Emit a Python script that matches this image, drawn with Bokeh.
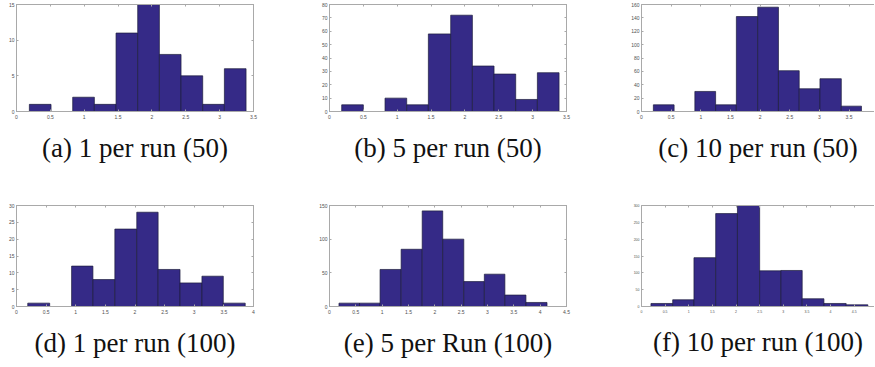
from bokeh.plotting import figure
from bokeh.layouts import column, row
from bokeh.models import Range1d, LinearAxis, Title, CustomJSTickFormatter
from bokeh.embed import file_html
from bokeh.resources import INLINE

# ---------------- data ----------------
a_edges = [0.19, 0.51, 0.83, 1.15, 1.47, 1.79, 2.11, 2.43, 2.75, 3.07, 3.39]
a_counts = [1, 0, 2, 1, 11, 15, 8, 5, 1, 6]
b_edges = [0.18, 0.50, 0.82, 1.14, 1.46, 1.79, 2.11, 2.43, 2.75, 3.07, 3.39]
b_counts = [5, 0, 10, 5, 58, 72, 34, 28, 9, 29]
c_edges = [0.20, 0.55, 0.90, 1.25, 1.60, 1.96, 2.31, 2.66, 3.01, 3.37, 3.71]
c_counts = [10, 0, 30, 10, 142, 156, 61, 34, 49, 8]
d_edges = [0.19, 0.56, 0.93, 1.29, 1.66, 2.03, 2.39, 2.76, 3.13, 3.49, 3.86]
d_counts = [1, 0, 12, 8, 23, 28, 11, 7, 9, 1]
e_edges = [0.18, 0.57, 0.96, 1.36, 1.76, 2.15, 2.55, 2.94, 3.33, 3.73, 4.13]
e_counts = [5, 5, 55, 85, 142, 100, 37, 48, 17, 6]
f_edges = [0.20, 0.66, 1.11, 1.57, 2.03, 2.50, 2.95, 3.40, 3.86, 4.33, 4.79]
f_counts = [9, 20, 145, 276, 300, 106, 107, 23, 9, 5]

x_ticks_35 = [0, 0.5, 1, 1.5, 2, 2.5, 3, 3.5]
x_ticks_40 = [0, 0.5, 1, 1.5, 2, 2.5, 3, 3.5, 4]
x_ticks_45 = [0, 0.5, 1, 1.5, 2, 2.5, 3, 3.5, 4, 4.5]
a_yticks = [0, 5, 10, 15]
b_yticks = [0, 10, 20, 30, 40, 50, 60, 70, 80]
c_yticks = [0, 20, 40, 60, 80, 100, 120, 140, 160]
d_yticks = [0, 5, 10, 15, 20, 25, 30]
e_yticks = [0, 50, 100, 150]
f_yticks = [0, 50, 100, 150, 200, 250, 300]

captions = ["(a) 1 per run (50)", "(b) 5 per run (50)", "(c) 10 per run (50)",
            "(d) 1 per run (100)", "(e) 5 per Run (100)", "(f) 10 per run (100)"]

BAR = "#352A87"
GRID = "#a9a9a9"
LBL = "#505050"
CAP_FONT = "Liberation Serif"


def panel(edges, counts, xmax, ymax, xticks, yticks, caption, w, h,
          bl, br, bt, bb, right_side=True, fs="5px", cap_standoff=19):
    p = figure(width=w, height=h, output_backend="svg", toolbar_location=None,
               x_range=Range1d(0, xmax), y_range=Range1d(0, ymax),
               min_border_left=bl, min_border_right=br, min_border_top=bt,
               min_border_bottom=bb)
    p.grid.visible = False
    p.background_fill_color = "white"
    p.border_fill_color = "white"
    p.outline_line_color = GRID if right_side else None
    p.quad(left=edges[:-1], right=edges[1:], bottom=0, top=counts,
           fill_color=BAR, line_color="#1c1c3c", line_width=0.7)
    for ax, ticks in ((p.xaxis[0], xticks), (p.yaxis[0], yticks)):
        ax.ticker = ticks
        ax.major_tick_in = 2
        ax.major_tick_out = 0
        ax.minor_tick_line_color = None
        ax.axis_line_color = GRID
        ax.major_tick_line_color = GRID
        ax.major_label_text_font_size = fs
        ax.major_label_text_color = LBL
        ax.major_label_text_font = "Liberation Sans"
    p.xaxis[0].major_label_standoff = 3
    p.yaxis[0].major_label_standoff = 2
    sides = [("above", xticks)]
    if right_side:
        sides.append(("right", yticks))
    for side, ticks in sides:
        ax = LinearAxis(ticker=ticks, major_tick_in=2, major_tick_out=0,
                        minor_tick_line_color=None, axis_line_color=GRID,
                        major_tick_line_color=GRID, major_label_standoff=0,
                        major_label_text_font_size="1px",
                        formatter=CustomJSTickFormatter(code="return ''"))
        p.add_layout(ax, side)
    p.add_layout(Title(text=caption, align="center", text_font=CAP_FONT,
                       text_font_size="27px", text_font_style="normal",
                       text_color="#111111", standoff=cap_standoff), "below")
    return p


H1, H2 = 196, 170
W1, W2, W3 = 298, 300, 276
pa = panel(a_edges, a_counts, 3.5, 15, x_ticks_35, a_yticks, captions[0], W1, H1, 16, 45, 4, 85)
pb = panel(b_edges, b_counts, 3.5, 80, x_ticks_35, b_yticks, captions[1], W2, H1, 31, 32, 4, 85)
pc = panel(c_edges, c_counts, 3.93, 160, x_ticks_35, c_yticks, captions[2], W3, H1, 43, 0, 4, 85,
           right_side=False)
pd = panel(d_edges, d_counts, 4.0, 30, x_ticks_40, d_yticks, captions[3], W1, H2, 16, 45, 7, 56,
           cap_standoff=18)
pe = panel(e_edges, e_counts, 4.5, 150, x_ticks_45, e_yticks, captions[4], W2, H2, 31, 32, 7, 56,
           cap_standoff=18)
pf = panel(f_edges, f_counts, 4.93, 300, x_ticks_45, f_yticks, captions[5], W3, H2, 43, 0, 9, 56,
           right_side=False, fs="3.5px", cap_standoff=18)

layout = column(row(pa, pb, pc, spacing=0), row(pd, pe, pf, spacing=0), spacing=0)

open("out.html", "w").write(file_html(layout, INLINE))
